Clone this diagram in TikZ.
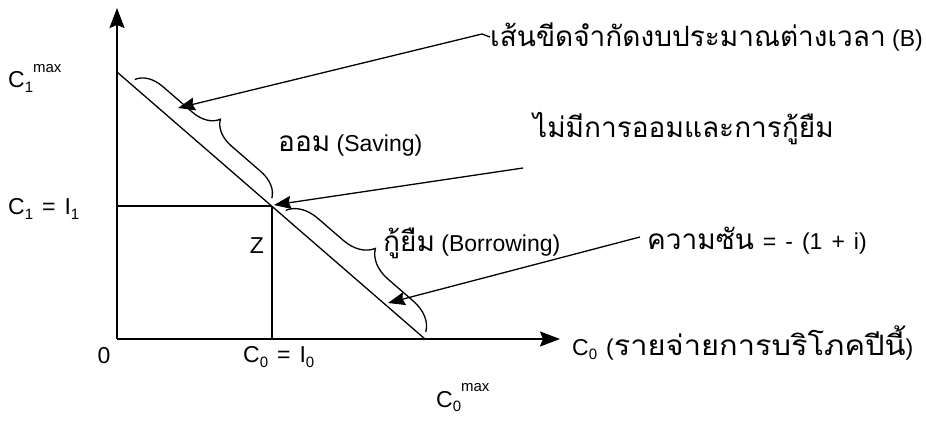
\documentclass[tikz,border=0pt]{standalone}
\usepackage{fontspec}
\setmainfont{Liberation Sans}
\newfontfamily\thai[Script=Thai]{Loma}
\newcommand\thtxt[1]{{\thai\fontsize{28}{30}\selectfont #1}}
\newcommand\sbs[1]{\raisebox{-0.35ex}{\fontsize{15}{17}\selectfont #1}}
\newcommand\sps[1]{\raisebox{1.3ex}{\fontsize{15}{17}\selectfont #1}}
\newcommand\wsp{\hspace{9pt}}
\usetikzlibrary{arrows.meta,decorations.pathreplacing,calc}
\begin{document}
\begin{tikzpicture}[x=1pt,y=-1pt,
  lbl/.style={inner sep=0pt,font=\fontsize{23}{26}\selectfont},
  axisline/.style={line width=1.8pt,-{Stealth[length=20pt,width=15pt,inset=3pt]}},
  thinline/.style={line width=1.3pt},
  pointer/.style={line width=1.3pt,-{Stealth[length=17pt,width=13pt,inset=2pt]}},
  bracestyle/.style={line width=1.3pt,decorate,decoration={brace,amplitude=#1,raise=6pt}}]
\useasboundingbox (0,0) rectangle (926,423);
% key points
\coordinate (O) at (117,339);
\coordinate (ytip) at (117,8);
\coordinate (xtip) at (560,339);
\coordinate (A) at (117,72);
\coordinate (E) at (425,339);
\coordinate (Zp) at (272,206);
\coordinate (Hl) at (117,206);
\coordinate (Vb) at (272,339);
% axes
\draw[axisline] (O) -- (ytip);
\draw[axisline] (O) -- (xtip);
% budget line and guides
\draw[thinline] (A) -- (E);
\draw[thinline] (Hl) -- (Zp);
\draw[thinline] (Zp) -- (Vb);
% braces
\draw[bracestyle=26pt] ($(A)!0.045!(E)$) -- ($(A)!0.49!(E)$);
\draw[bracestyle=30pt] ($(A)!0.535!(E)$) -- ($(A)!0.99!(E)$);
% labels
\node[lbl,anchor=west] (c1max) at (8,78) {C\sbs{1}\sps{max}};
\node[lbl,anchor=west] (c1i1) at (8,209) {C\sbs{1}\wsp=\wsp I\sbs{1}};
\node[lbl] (zero) at (104,356) {0};
\node[lbl] (zlab) at (257,246) {Z};
\node[lbl,anchor=west] (c0i0) at (243,357) {C\sbs{0}\wsp=\wsp I\sbs{0}};
\node[lbl,anchor=west] (c0max) at (436,398) {C\sbs{0}\sps{max}};
\node[lbl,anchor=west] (xlab) at (572,343) {C\sbs{0}\wsp({\thai\fontsize{28}{30}\selectfont\addfontfeature{FakeStretch=1.1}รายจ่ายการบริโภคปีนี้})};
\node[lbl,anchor=west] (tB) at (490,37) {\thtxt{เส้นขีดจำกัดงบประมาณต่างเวลา} (B)};
\node[lbl,anchor=west] (tNone) at (533,129) {\thtxt{ไม่มีการออมและการกู้ยืม}};
\node[lbl,anchor=west] (tSave) at (278,146) {\thtxt{ออม} (Saving)};
\node[lbl,anchor=west] (tBorrow) at (383,243) {\thtxt{กู้ยืม} (Borrowing)};
\node[lbl,anchor=west] (tSlope) at (647,241) {\thtxt{ความซัน}\wsp=\wsp-\wsp(1\wsp+\wsp i)};
% pointer arrows
\coordinate (s1) at (482,34);
\coordinate (e1) at (178,108);
\coordinate (s2) at (523,168);
\coordinate (e2) at (274,205);
\coordinate (s3) at (640,237);
\coordinate (e3) at (388,303);
\draw[thinline] (tB.west) -- (s1);
\draw[pointer] (s1) -- (e1);
\draw[pointer] (s2) -- (e2);
\draw[pointer] (s3) -- (e3);
\end{tikzpicture}
\end{document}
